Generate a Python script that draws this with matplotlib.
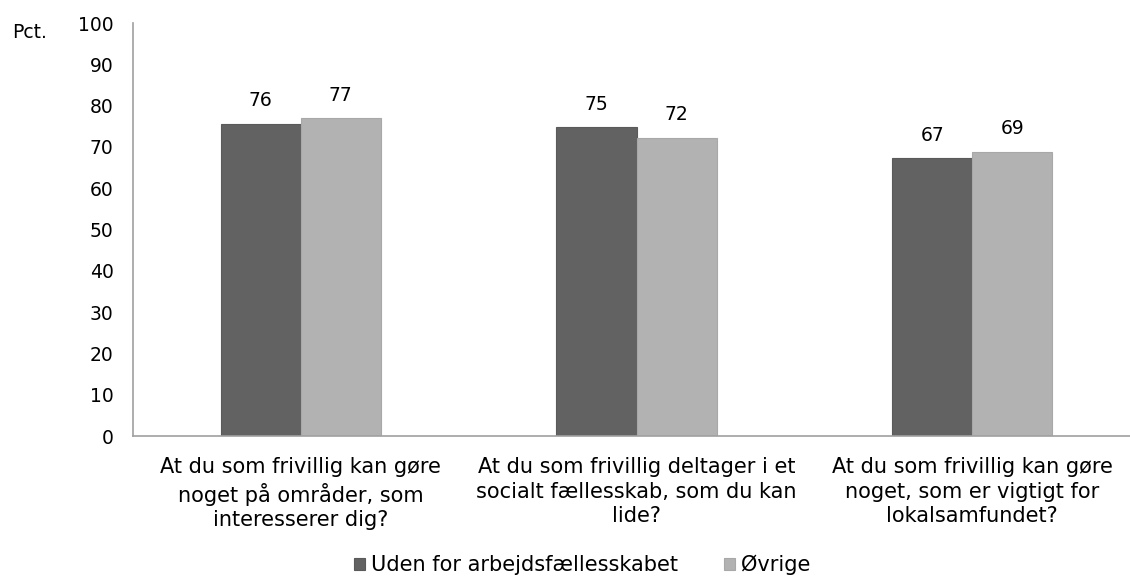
import matplotlib
matplotlib.use("Agg")
import matplotlib.pyplot as plt
import numpy as np

categories = [
    "At du som frivillig kan gøre\nnoget på områder, som\ninteresserer dig?",
    "At du som frivillig deltager i et\nsocialt fællesskab, som du kan\nlide?",
    "At du som frivillig kan gøre\nnoget, som er vigtigt for\nlokalsamfundet?",
]
series_names = ["Uden for arbejdsfællesskabet", "Øvrige"]
uden = [75.6, 74.7, 67.2]
ovrige = [76.9, 72.2, 68.8]
yticks = [0, 10, 20, 30, 40, 50, 60, 70, 80, 90, 100]

plt.rcParams['font.family'] = ['DejaVu Sans']
FS = 13.5
FT = 15

fig = plt.figure(figsize=(11.3, 5.77), dpi=100)
W, H = 1130, 577
ax = fig.add_axes([133 / W, (H - 436) / H, (1140 - 133) / W, (436 - 23) / H])

x = np.arange(len(categories))
bw = 0.2385
colors = ["#626262", "#b2b2b2"]
edges = ["#5a5a5a", "#a8a8a8"]
for i, (vals, name) in enumerate(zip([uden, ovrige], series_names)):
    pos = x + (i - 0.5) * bw
    bars = ax.bar(pos, vals, width=bw, color=colors[i], edgecolor=edges[i],
                  linewidth=0.8, label=name)
    for b, v in zip(bars, vals):
        ax.annotate(f"{round(v):d}", (b.get_x() + b.get_width() / 2, v),
                    xytext=(0, 10), textcoords="offset points",
                    ha="center", va="bottom", fontsize=FS, color="#000000")

ax.set_xlim(-0.5, 2.5)
ax.set_ylim(0, 100)
ax.set_yticks(yticks)
ax.set_yticklabels([str(t) for t in yticks], fontsize=FS)
ax.set_xticks(x)
ax.set_xticklabels(categories, fontsize=FT, linespacing=1.3)
ax.tick_params(axis="y", length=0, pad=14)
ax.tick_params(axis="x", length=0, pad=15)
for s in ["top", "right"]:
    ax.spines[s].set_visible(False)
for s in ["left", "bottom"]:
    ax.spines[s].set_color("#a0a0a0")
    ax.spines[s].set_linewidth(1.2)

fig.text(12 / W, 1 - 33 / H, "Pct.", fontsize=FS, ha="left", va="center")

leg = fig.legend(loc="center", bbox_to_anchor=(582 / W, 1 - 565 / H), ncol=2,
                 frameon=False, fontsize=FT, handlelength=0.53, handleheight=0.53,
                 handletextpad=0.3, columnspacing=2.2, borderaxespad=0)

fig.savefig("out.png", dpi=100)
